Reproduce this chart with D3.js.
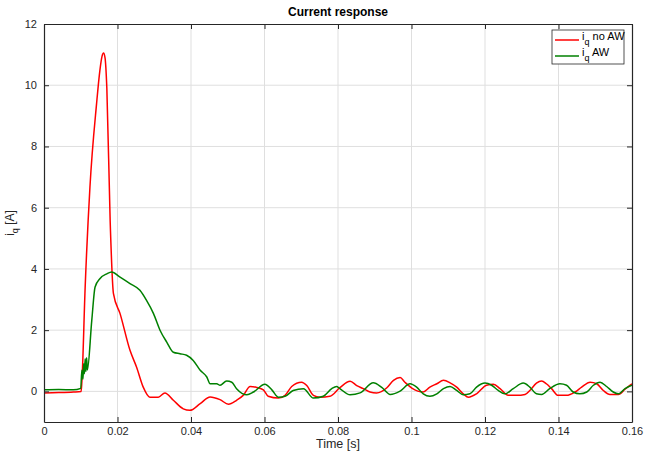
<!DOCTYPE html>
<html>
<head>
<meta charset="utf-8">
<script src="https://cdn.jsdelivr.net/npm/d3@7"></script>
<style>
  body { margin: 0; background: #fff; }
  svg { font-family: "Liberation Sans", Arial, sans-serif; }
</style>
</head>
<body>
<svg id="chart" width="645" height="453"></svg>
<script>
// values
var xTicks = [0, 0.02, 0.04, 0.06, 0.08, 0.1, 0.12, 0.14, 0.16];
var yTicks = [0, 2, 4, 6, 8, 10, 12];

// i_q without anti-windup
var tNoAW = [0, 0.004, 0.008, 0.0101, 0.0103, 0.0112, 0.0125, 0.0143, 0.0152, 0.0158, 0.0162, 0.0166, 0.0171, 0.0180, 0.0189, 0.0207,
  0.0234, 0.0252, 0.0270, 0.0288, 0.0311, 0.0329, 0.0352, 0.0379, 0.0397, 0.0425, 0.0452, 0.0479, 0.0502, 0.0524, 0.0542,
  0.0561, 0.0579, 0.0597, 0.0610, 0.0638, 0.0656, 0.0674, 0.0701, 0.0715, 0.0733, 0.0751, 0.0778, 0.0805, 0.0833, 0.0851,
  0.0869, 0.0887, 0.0905, 0.0933, 0.0951, 0.0969, 0.0982, 0.1001, 0.1032, 0.1050, 0.1069, 0.1087, 0.1105, 0.1123, 0.1141,
  0.1155, 0.1177, 0.1204, 0.1223, 0.1241, 0.1263, 0.1286, 0.1309, 0.1322, 0.1340, 0.1354, 0.1367, 0.1381, 0.1399, 0.1422,
  0.1445, 0.1463, 0.1486, 0.1504, 0.1522, 0.1540, 0.1563, 0.1581, 0.1600];
var iqNoAW = [-0.05, -0.04, -0.02, 0.0, 0.3, 3.4, 6.67, 9.39, 10.48, 10.95, 11.05, 10.9, 9.9, 5.58, 3.19, 2.54,
  1.34, 0.79, 0.14, -0.19, -0.19, -0.05, -0.29, -0.57, -0.62, -0.40, -0.18, -0.27, -0.42, -0.29, -0.13,
  0.16, 0.13, 0.05, -0.16, -0.22, -0.13, 0.16, 0.30, 0.19, -0.13, -0.19, -0.16, 0.12, 0.33, 0.19,
  0.09, -0.02, -0.05, 0.12, 0.36, 0.45, 0.30, 0.11, -0.02, 0.14, 0.25, 0.36, 0.28, 0.14, -0.08,
  -0.19, -0.08, 0.2, 0.23, 0.09, -0.13, -0.13, -0.1, 0.03, 0.27, 0.34, 0.25, 0.09, -0.13, -0.13,
  -0.02, 0.14, 0.30, 0.25, 0.03, -0.1, -0.1, 0.07, 0.25];

// i_q with anti-windup
var tAW = [0, 0.004, 0.008, 0.0100, 0.0103, 0.0106, 0.0108, 0.0110, 0.0112, 0.0114, 0.0116, 0.0118, 0.0130, 0.0139, 0.0152, 0.0171, 0.0184,
  0.0207, 0.0234, 0.0261, 0.0279, 0.0298, 0.0316, 0.0334, 0.0352, 0.0370, 0.0388, 0.0406, 0.0425, 0.0443, 0.0452, 0.0470,
  0.0479, 0.0497, 0.0511, 0.0524, 0.0552, 0.0570, 0.0601, 0.0620, 0.0638, 0.0656, 0.0678, 0.0706, 0.0733, 0.0760, 0.0783,
  0.0796, 0.0805, 0.0833, 0.0860, 0.0896, 0.0919, 0.0942, 0.0969, 0.0996, 0.1014, 0.1032, 0.1050, 0.1069, 0.1087, 0.1105,
  0.1123, 0.1141, 0.1159, 0.1177, 0.1200, 0.1218, 0.1236, 0.1254, 0.1277, 0.1304, 0.1322, 0.1340, 0.1354, 0.1376, 0.1404,
  0.1422, 0.1440, 0.1458, 0.1477, 0.1495, 0.1513, 0.1531, 0.1549, 0.1563, 0.1581, 0.1600];
var iqAW = [0.05, 0.06, 0.05, 0.1, 0.69, 0.4, 0.9, 0.58, 1.07, 0.65, 1.1, 0.7, 2.32, 3.41, 3.68, 3.84, 3.90,
  3.73, 3.52, 3.30, 2.97, 2.54, 1.99, 1.61, 1.28, 1.23, 1.18, 1.01, 0.69, 0.47, 0.25, 0.25,
  0.2, 0.34, 0.3, 0.09, -0.11, -0.02, 0.23, 0.05, -0.19, -0.16, 0.03, 0.09, -0.22, -0.16, 0.09,
  0.16, 0.09, -0.11, -0.05, 0.28, 0.13, -0.1, 0.01, 0.25, 0.14, -0.08, -0.16, -0.08, 0.09, 0.16,
  0.03, -0.11, -0.08, 0.14, 0.27, 0.2, 0.03, -0.08, 0.09, 0.27, 0.14, -0.08, -0.1, 0.09, 0.25,
  0.2, -0.02, -0.08, -0.02, 0.2, 0.3, 0.16, -0.02, -0.08, 0.09, 0.2];

var svg = d3.select("#chart");
var margin = { top: 24, right: 13, bottom: 31, left: 44 };
var width = 645 - margin.left - margin.right,
  height = 453 - margin.top - margin.bottom;

var x = d3.scaleLinear().domain([0, 0.16]).range([0, width]);
var y = d3.scaleLinear().domain([-1, 12]).range([height, 0]);

var g = svg.append("g").attr("transform", "translate(" + margin.left + "," + margin.top + ")");

// grid
g.append("g").selectAll("line").data(xTicks.slice(1, -1)).enter().append("line")
  .attr("x1", function (d) { return x(d); }).attr("x2", function (d) { return x(d); })
  .attr("y1", 0).attr("y2", height)
  .attr("stroke", "#dfdfdf").attr("stroke-width", 1);
g.append("g").selectAll("line").data(yTicks.slice(0, -1)).enter().append("line")
  .attr("y1", function (d) { return y(d); }).attr("y2", function (d) { return y(d); })
  .attr("x1", 0).attr("x2", width)
  .attr("stroke", "#dfdfdf").attr("stroke-width", 1);

// curves
g.append("defs").append("clipPath").attr("id", "clip")
  .append("rect").attr("width", width).attr("height", height);

var line = d3.line()
  .x(function (d) { return x(d[0]); })
  .y(function (d) { return y(d[1]); })
  .curve(d3.curveMonotoneX);

g.append("path")
  .datum(d3.zip(tNoAW, iqNoAW))
  .attr("clip-path", "url(#clip)")
  .attr("fill", "none").attr("stroke", "#ff0000").attr("stroke-width", 1.5)
  .attr("d", line);
g.append("path")
  .datum(d3.zip(tAW, iqAW))
  .attr("clip-path", "url(#clip)")
  .attr("fill", "none").attr("stroke", "#008000").attr("stroke-width", 1.5)
  .attr("d", line);

// axes (box on, ticks inside)
var axisColor = "#262626";
function styleAxis(sel) {
  sel.select(".domain").attr("stroke", axisColor).attr("stroke-width", 1.2);
  sel.selectAll(".tick line").attr("stroke", axisColor);
  sel.selectAll(".tick text").attr("fill", axisColor).style("font-size", "11px");
}
g.append("g").attr("transform", "translate(0," + height + ")")
  .call(d3.axisBottom(x).tickValues(xTicks).tickFormat(d3.format("~g")).tickSizeInner(-5).tickSizeOuter(0).tickPadding(5))
  .call(styleAxis);
g.append("g")
  .call(d3.axisLeft(y).tickValues(yTicks).tickFormat(d3.format("d")).tickSizeInner(-5).tickSizeOuter(0).tickPadding(7))
  .call(styleAxis);
g.append("g")
  .call(d3.axisTop(x).tickValues(xTicks).tickFormat("").tickSizeInner(-5).tickSizeOuter(0))
  .call(styleAxis);
g.append("g").attr("transform", "translate(" + width + ",0)")
  .call(d3.axisRight(y).tickValues(yTicks).tickFormat("").tickSizeInner(-5).tickSizeOuter(0))
  .call(styleAxis);

// title and labels
svg.append("text").attr("x", margin.left + width / 2).attr("y", 16)
  .attr("text-anchor", "middle").style("font-size", "12px").style("font-weight", "bold")
  .attr("fill", "#000").text("Current response");
svg.append("text").attr("x", margin.left + width / 2).attr("y", 448)
  .attr("text-anchor", "middle").style("font-size", "12.5px").attr("fill", axisColor).text("Time [s]");

var yl = svg.append("text")
  .attr("transform", "translate(14," + (margin.top + y(5.5)) + ") rotate(-90)")
  .attr("text-anchor", "middle").style("font-size", "12px").attr("fill", axisColor);
yl.append("tspan").text("i");
yl.append("tspan").attr("dy", 4).style("font-size", "9px").text("q");
yl.append("tspan").attr("dy", -4).text(" [A]");

// legend
var legendNames = ["no AW", "AW"];
var legendColors = ["#ff0000", "#008000"];
var lg = svg.append("g").attr("transform", "translate(552,30)");
lg.append("rect").attr("width", 72).attr("height", 34)
  .attr("fill", "#fff").attr("stroke", axisColor).attr("stroke-width", 0.8);
legendNames.forEach(function (name, i) {
  var row = lg.append("g").attr("transform", "translate(0," + (10 + i * 16) + ")");
  row.append("line").attr("x1", 3).attr("x2", 27).attr("y1", 0).attr("y2", 0)
    .attr("stroke", legendColors[i]).attr("stroke-width", 1.5);
  var t = row.append("text").attr("x", 30).attr("y", 0).style("font-size", "11px").attr("fill", "#000");
  t.append("tspan").text("i");
  t.append("tspan").attr("dy", 5).style("font-size", "9px").text("q");
  t.append("tspan").attr("dy", -5).text(" " + name);
});
</script>
</body>
</html>
